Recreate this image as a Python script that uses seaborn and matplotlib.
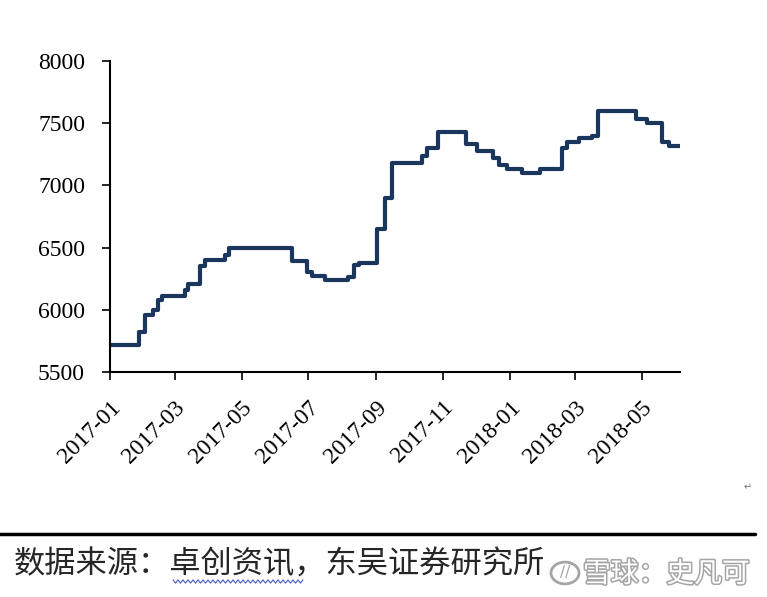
import numpy as np
import pandas as pd
import matplotlib
matplotlib.use("Agg")
import matplotlib.pyplot as plt
import matplotlib.dates as mdates
import matplotlib.patheffects as pe
import seaborn as sns

# step change points (price holds until next date)
dates = ['2017-01-01', '2017-01-27', '2017-02-02', '2017-02-09', '2017-02-14',
         '2017-02-17', '2017-03-10', '2017-03-13', '2017-03-24', '2017-03-29',
         '2017-04-16', '2017-04-20', '2017-06-16', '2017-06-30', '2017-07-04',
         '2017-07-16', '2017-08-06', '2017-08-12', '2017-08-16', '2017-09-02',
         '2017-09-09', '2017-09-15', '2017-10-13', '2017-10-17', '2017-10-27',
         '2017-11-22', '2017-12-02', '2017-12-16', '2017-12-22', '2017-12-29',
         '2018-01-12', '2018-01-28', '2018-02-17', '2018-02-22', '2018-03-05',
         '2018-03-17', '2018-03-22', '2018-04-26', '2018-05-06', '2018-05-20',
         '2018-05-26', '2018-06-05']
prices = [5720, 5820, 5960, 6000, 6080,
          6110, 6160, 6210, 6350, 6400,
          6440, 6500, 6390, 6300, 6270,
          6240, 6260, 6360, 6380, 6650,
          6900, 7180, 7240, 7300, 7430,
          7330, 7280, 7220, 7160, 7130,
          7100, 7130, 7300, 7350, 7380,
          7400, 7600, 7530, 7500, 7350,
          7320, 7320]
y_ticks = [5500, 6000, 6500, 7000, 7500, 8000]
source_text = '数据来源：卓创资讯，东吴证券研究所'
watermark = '雪球：史凡可'

df = pd.DataFrame({'date': pd.to_datetime(dates), 'price': prices})

sns.set_style("ticks")
plt.rcParams['font.family'] = ['Liberation Serif', 'DejaVu Serif']

fig = plt.figure(figsize=(7.67, 5.97), dpi=100)
ax = fig.add_axes([110 / 767, 1 - 372 / 597, 570 / 767, 311 / 597])

sns.lineplot(data=df, x='date', y='price', ax=ax, drawstyle='steps-post',
             color='#1b365d', linewidth=3)

ax.set_xlim(df['date'].min(), df['date'].max())
ax.set_ylim(5500, 8000)
ax.set_yticks(y_ticks)
ax.set_xlabel('')
ax.set_ylabel('')

ax.xaxis.set_major_locator(mdates.MonthLocator(bymonth=[1, 3, 5, 7, 9, 11]))
ax.xaxis.set_major_formatter(mdates.DateFormatter('%Y-%m'))
for lab in ax.get_xticklabels():
    lab.set_rotation(45)
    lab.set_ha('right')
    lab.set_rotation_mode('anchor')
ax.tick_params(axis='both', labelsize=17, colors='black', length=6, width=1.2)
ax.tick_params(axis='y', pad=12)
ax.tick_params(axis='x', pad=12)

sns.despine(ax=ax)
for s in ['left', 'bottom']:
    ax.spines[s].set_color('black')
    ax.spines[s].set_linewidth(1.5)

# bottom rule and source note
fig.add_artist(plt.Line2D([0, 755 / 767], [1 - 534 / 597] * 2, color='black', linewidth=2.5))
fig.text(14 / 767, 1 - 565 / 597, source_text, fontsize=22.5, va='center',
         family=['Noto Sans CJK SC', 'DejaVu Sans'])

# spell-check squiggle under 卓创资讯
sx = np.arange(173, 304, 2.5)
sy = 581.5 + 1.6 * np.array([1 if i % 2 else -1 for i in range(len(sx))])
fig.add_artist(plt.Line2D(sx / 767, 1 - sy / 597, color='#4a5bc8', linewidth=0.8))

fig.text(748 / 767, 1 - 487 / 597, '↵', fontsize=7, color='#777777', va='center',
         ha='center', family=['DejaVu Sans'])

t = fig.text(583 / 767, 1 - 574 / 597, watermark, fontsize=20, va='center',
             color='white', family=['Noto Sans CJK SC', 'DejaVu Sans'])
t.set_path_effects([pe.withStroke(linewidth=2.2, foreground='#a5a5a5')])
circ = plt.Circle((565 / 767, 1 - 573 / 597), 14 / 767, transform=fig.transFigure,
                  fill=False, edgecolor='#a5a5a5', linewidth=2)
fig.add_artist(circ)
fig.text(565 / 767, 1 - 573 / 597, '//', fontsize=11, color='#a5a5a5', ha='center',
         va='center', family=['DejaVu Sans'])

fig.savefig('out.png', dpi=100)
